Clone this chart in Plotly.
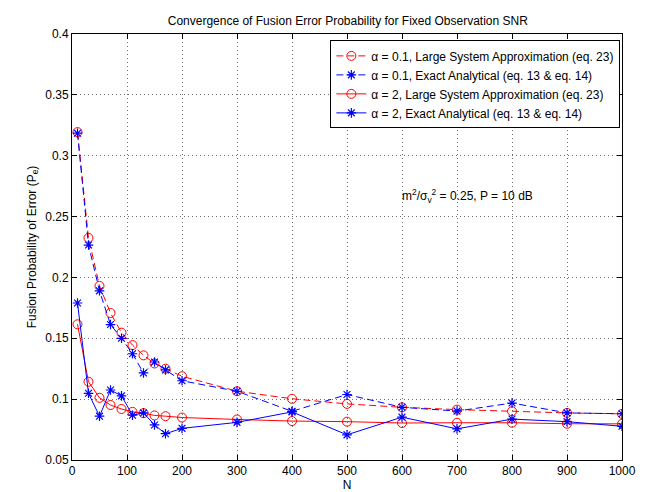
import plotly.graph_objects as go

N = [10, 30, 50, 70, 90, 110, 130, 150, 170, 200, 300, 400, 500, 600, 700, 800, 900, 1000]

lsa_a01 = [0.3194, 0.2325, 0.193, 0.1708, 0.1546, 0.1444, 0.1360, 0.1293, 0.1250, 0.1188,
           0.1065, 0.1003, 0.0961, 0.0933, 0.0914, 0.0900, 0.0887, 0.0879]
exact_a01 = [0.3185, 0.2266, 0.189, 0.1613, 0.1500, 0.1373, 0.1215, 0.1305, 0.1240, 0.1151,
             0.1065, 0.0900, 0.1038, 0.0933, 0.0902, 0.0968, 0.0887, 0.0880]
lsa_a2 = [0.1615, 0.1143, 0.1011, 0.0952, 0.0919, 0.0895, 0.0885, 0.0866, 0.0860, 0.0849,
          0.0833, 0.0820, 0.0815, 0.0804, 0.0806, 0.0806, 0.0798, 0.0797]
exact_a2 = [0.1790, 0.1048, 0.0860, 0.1075, 0.1027, 0.0868, 0.0887, 0.0788, 0.0716, 0.0760,
            0.0809, 0.0895, 0.0707, 0.0852, 0.0756, 0.0836, 0.0815, 0.0777]

names = [
    "α = 0.1, Large System Approximation (eq. 23)",
    "α = 0.1, Exact Analytical (eq. 13 & eq. 14)",
    "α = 2, Large System Approximation (eq. 23)",
    "α = 2, Exact Analytical (eq. 13 & eq. 14)",
]

RED = "#ff0000"
BLUE = "#0000ff"
FONT = "Liberation Sans, Arial, Helvetica, sans-serif"
FS = 12

fig = go.Figure()

def add(y, name, color, dash, symbol):
    if symbol == "circle-open":
        marker = dict(symbol="circle-open", size=9, color=color, line=dict(width=1, color=color))
    else:
        marker = dict(symbol="asterisk-open", size=8, color=color, line=dict(width=1.2, color=color))
    fig.add_trace(go.Scatter(
        x=N, y=y, name=name, mode="lines+markers",
        line=dict(color=color, width=1, dash=dash),
        marker=marker,
    ))

add(lsa_a01, names[0], RED, "7px,4px", "circle-open")
add(exact_a01, names[1], BLUE, "7px,4px", "asterisk")
add(lsa_a2, names[2], RED, "solid", "circle-open")
add(exact_a2, names[3], BLUE, "solid", "asterisk")

axis_common = dict(
    showgrid=True, gridcolor="#707070", griddash="1px,3px", gridwidth=1,
    showline=True, linecolor="black", linewidth=1, mirror="ticks",
    ticks="inside", ticklen=5, tickcolor="black",
    zeroline=False, tickfont=dict(family=FONT, size=FS, color="black"),
)

fig.update_xaxes(range=[0, 1000], tickvals=list(range(0, 1001, 100)),
                 title=dict(text="N", font=dict(family=FONT, size=FS, color="black"), standoff=1),
                 **axis_common)
fig.update_yaxes(range=[0.05, 0.4], tickvals=[0.05, 0.1, 0.15, 0.2, 0.25, 0.3, 0.35, 0.4],
                 ticktext=["0.05", "0.1", "0.15", "0.2", "0.25", "0.3", "0.35", "0.4"],
                 title=dict(text="Fusion Probability of Error (P<sub>e</sub>)",
                            font=dict(family=FONT, size=FS, color="black"), standoff=6),
                 **axis_common)

fig.add_annotation(x=842, y=0.267, xref="x", yref="y", xanchor="right", yanchor="middle",
                   text="m<sup>2</sup>/σ<sub>v</sub><sup>2</sup> = 0.25, P = 10 dB",
                   showarrow=False, font=dict(family=FONT, size=FS, color="black"))

fig.update_layout(
    width=651, height=492,
    margin=dict(l=64, r=37, t=26, b=34),
    paper_bgcolor="white", plot_bgcolor="white",
    title=dict(text="Convergence of Fusion Error Probability for Fixed Observation SNR",
               x=0.522, xanchor="center", y=0.975, yanchor="middle",
               font=dict(family=FONT, size=FS, color="black")),
    legend=dict(x=0.997, y=0.985, xanchor="right", yanchor="top",
                bgcolor="white", bordercolor="black", borderwidth=1,
                font=dict(family=FONT, size=FS, color="black"),
                itemwidth=30, tracegroupgap=0),
    showlegend=True,
)

fig.write_html("out.html")
